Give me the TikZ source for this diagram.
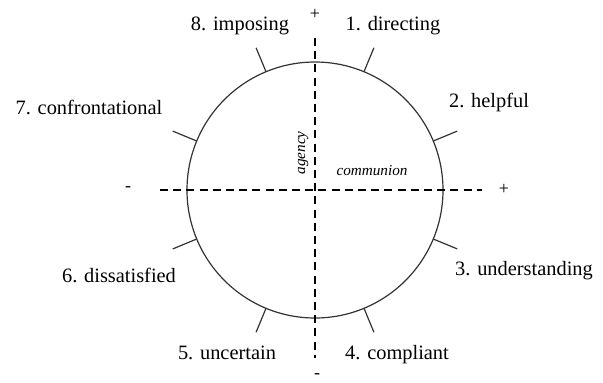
\documentclass[tikz,border=0pt]{standalone}
\usepackage{fontspec}
\setmainfont{Liberation Serif}

\begin{document}
\begin{tikzpicture}[x=0.5pt,y=0.5pt,
    axis/.style={line width=1pt,dash pattern=on 4pt off 2.6pt},
    rim/.style={line width=0.6pt,black!80},
    octant/.style={anchor=base,inner sep=0pt,font=\fontsize{10.2}{12}\selectfont},
    sign/.style={inner sep=0pt,font=\fontsize{9}{10}\selectfont},
    dim/.style={anchor=base,inner sep=0pt,font=\fontsize{7.6}{9}\selectfont\itshape}]
    \useasboundingbox (-315,-192) rectangle (288,190);
    \draw[rim] (0,0) circle[radius=128];
    \draw[rim] (67.5:128) -- (67.5:154);
    \draw[rim] (22.5:128) -- (22.5:154);
    \draw[rim] (-22.5:128) -- (-22.5:154);
    \draw[rim] (-67.5:128) -- (-67.5:154);
    \draw[rim] (-112.5:128) -- (-112.5:154);
    \draw[rim] (-157.5:128) -- (-157.5:154);
    \draw[rim] (157.5:128) -- (157.5:154);
    \draw[rim] (112.5:128) -- (112.5:154);
    \draw[axis] (-155,0) -- (167,0);
    \draw[axis] (0,152) -- (0,-168);
    \node[sign] (plusup) at (0,176) {+};
    \node[sign] (plusright) at (189,1) {+};
    \node[sign] (minusleft) at (-187,1) {-};
    \node[sign] (minusdown) at (2,-186) {-};
    \node[dim,rotate=90] (agency) at (-10,37) {agency};
    \node[dim] (communion) at (57,15) {communion};
    \node[octant] (directing) at (78,160) {1. directing};
    \node[octant] (helpful) at (174,83) {2. helpful};
    \node[octant] (understanding) at (209,-85) {3. understanding};
    \node[octant] (compliant) at (82,-169) {4. compliant};
    \node[octant] (uncertain) at (-88,-169) {5. uncertain};
    \node[octant] (dissatisfied) at (-196,-92) {6. dissatisfied};
    \node[octant] (confrontational) at (-226,76) {7. confrontational};
    \node[octant] (imposing) at (-75,160) {8. imposing};
\end{tikzpicture}
\end{document}
